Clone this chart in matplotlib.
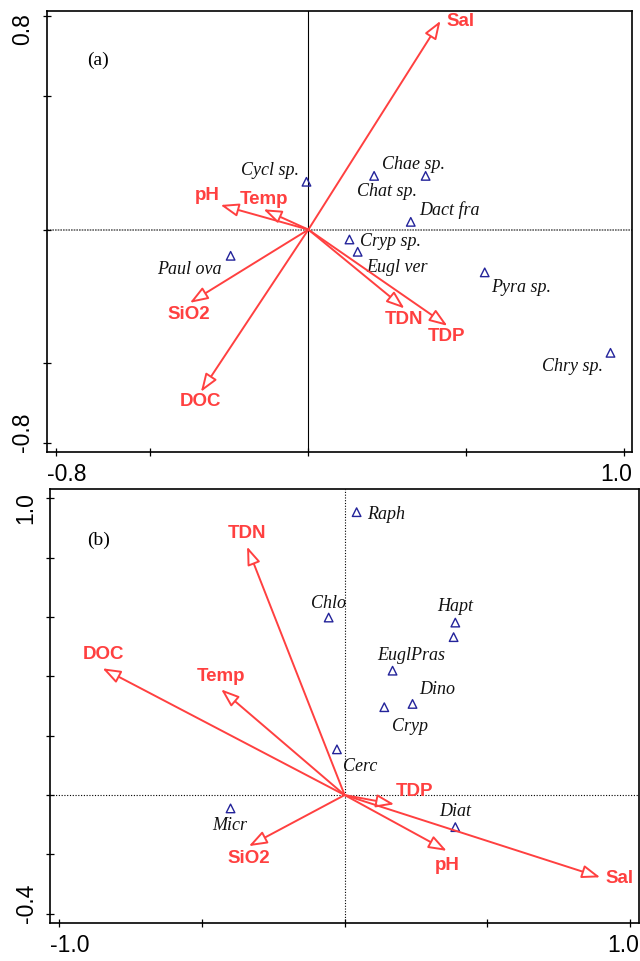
import matplotlib.pyplot as plt
import numpy as np

# ---- panel (a) data ----
env_a = ["Sal", "pH", "Temp", "SiO2", "DOC", "TDN", "TDP"]
env_a_x = [0.418, -0.278, -0.142, -0.375, -0.340, 0.304, 0.440]
env_a_y = [0.781, 0.092, 0.076, -0.274, -0.607, -0.295, -0.360]
env_a_lx = [0.480, -0.321, -0.140, -0.378, -0.340, 0.302, 0.438]
env_a_ly = [0.778, 0.129, 0.114, -0.316, -0.645, -0.335, -0.399]

sp_a = ["Cycl sp.", "Chat sp.", "Chae sp.", "Dact fra", "Cryp sp.",
        "Eugl ver", "Paul ova", "Pyra sp.", "Chry sp."]
sp_a_x = [-0.006, 0.208, 0.371, 0.324, 0.130, 0.156, -0.246, 0.558, 0.956]
sp_a_y = [0.179, 0.201, 0.201, 0.029, -0.037, -0.083, -0.098, -0.160, -0.461]
sp_a_lx = [-0.121, 0.250, 0.332, 0.446, 0.261, 0.279, -0.376, 0.673, 0.837]
sp_a_ly = [0.220, 0.144, 0.245, 0.073, -0.043, -0.143, -0.148, -0.215, -0.514]

# ---- panel (b) data ----
env_b = ["TDN", "DOC", "Temp", "TDP", "pH", "Sal", "SiO2"]
env_b_x = [-0.342, -0.849, -0.433, 0.174, 0.358, 0.896, -0.336]
env_b_y = [0.837, 0.427, 0.356, -0.031, -0.188, -0.277, -0.172]
env_b_lx = [-0.342, -0.847, -0.432, 0.246, 0.359, 0.965, -0.337]
env_b_ly = [0.882, 0.474, 0.399, 0.011, -0.236, -0.281, -0.213]

pts_b_x = [0.042, -0.056, 0.388, 0.382, 0.168, 0.238, 0.139, -0.027, 0.388, -0.400]
pts_b_y = [0.953, 0.598, 0.581, 0.532, 0.419, 0.307, 0.296, 0.154, -0.108, -0.045]
sp_b = ["Raph", "Chlo", "Hapt", "EuglPras", "Dino", "Cryp", "Cerc", "Diat", "Micr"]
sp_b_lx = [0.144, -0.055, 0.387, 0.232, 0.324, 0.229, 0.056, 0.388, -0.402]
sp_b_ly = [0.944, 0.646, 0.635, 0.469, 0.357, 0.230, 0.095, -0.056, -0.104]

xticks_a = [-0.8, -0.5, 0, 0.5, 1.0]
yticks_a = [-0.8, -0.5, 0, 0.5, 0.8]
xticks_b = [-1.0, -0.5, 0, 0.5, 1.0]
yticks_b = [-0.4, -0.2, 0, 0.2, 0.4, 0.6, 0.8, 1.0]
xlab_a = ["-0.8", "1.0"]
ylab_a = ["-0.8", "0.8"]
xlab_b = ["-1.0", "1.0"]
ylab_b = ["-0.4", "1.0"]

RED = "#ff4040"
BLUE = "#23239a"

fig = plt.figure(figsize=(6.4, 9.61), dpi=100)
ax_a = fig.add_axes([46.7 / 640, 1 - 451.7 / 961, 585.6 / 640, 441 / 961])
ax_b = fig.add_axes([50 / 640, 1 - 922.7 / 961, 589 / 640, 433.4 / 961])


def draw_panel(ax, ex, ey, names, lx, ly, px, py, spn, slx, sly):
    ax.scatter(px, py, marker="^", s=38, facecolors="none",
               edgecolors=BLUE, linewidths=1.0, zorder=3)
    for t, x, y in zip(spn, slx, sly):
        ax.text(x, y, t, ha="center", va="center", fontsize=13,
                family="Liberation Serif", style="italic", color="#111111")
    for x, y in zip(ex, ey):
        ax.annotate("", xy=(x, y), xytext=(0, 0),
                    arrowprops=dict(arrowstyle="-|>,head_length=0.55,head_width=0.2",
                                    fc="white", ec=RED, lw=1.4, mutation_scale=20,
                                    shrinkA=0, shrinkB=0), zorder=4)
    for t, x, y in zip(names, lx, ly):
        ax.text(x, y, t, ha="center", va="center", fontsize=13.5,
                family="Liberation Sans", weight="bold", color=RED)
    for s in ax.spines.values():
        s.set_linewidth(1.2)
    ax.tick_params(direction="inout", length=6, width=0.9,
                   labelbottom=False, labelleft=False)


def end_labels(ax, xl, yl):
    kw = dict(xycoords="axes fraction", textcoords="offset points",
              fontsize=16.5, family="Liberation Sans")
    ax.annotate(xl[0], xy=(0, 0), xytext=(0, -8), ha="left", va="top", **kw)
    ax.annotate(xl[1], xy=(1, 0), xytext=(0, -8), ha="right", va="top", **kw)
    ax.annotate(yl[0], xy=(0, 0), xytext=(-9, 0), ha="right", va="bottom",
                rotation=90, **kw)
    ax.annotate(yl[1], xy=(0, 1), xytext=(-9, -2), ha="right", va="top",
                rotation=90, **kw)


# panel (a)
ax_a.axvline(0, color="black", lw=0.8, zorder=1)
ax_a.axhline(0, color="#666666", lw=1.2, ls=(0, (1, 0.6)), zorder=1)
draw_panel(ax_a, env_a_x, env_a_y, env_a, env_a_lx, env_a_ly,
           sp_a_x, sp_a_y, sp_a, sp_a_lx, sp_a_ly)
ax_a.set_xlim(-0.828, 1.025)
ax_a.set_ylim(-0.831, 0.819)
ax_a.set_xticks(xticks_a)
ax_a.set_yticks(yticks_a)
end_labels(ax_a, xlab_a, ylab_a)
ax_a.text(0.088, 0.887, "(a)", transform=ax_a.transAxes, ha="center", va="center",
          fontsize=14, family="Liberation Serif")

# panel (b)
ax_b.axvline(0, color="black", lw=0.8, ls=(0, (1, 1.5)), zorder=1)
ax_b.axhline(0, color="black", lw=0.8, ls=(0, (1, 1.5)), zorder=1)
draw_panel(ax_b, env_b_x, env_b_y, env_b, env_b_lx, env_b_ly,
           pts_b_x, pts_b_y, sp_b, sp_b_lx, sp_b_ly)
ax_b.set_xlim(-1.033, 1.032)
ax_b.set_ylim(-0.430, 1.030)
ax_b.set_xticks(xticks_b)
ax_b.set_yticks(yticks_b)
end_labels(ax_b, xlab_b, ylab_b)
ax_b.text(0.083, 0.883, "(b)", transform=ax_b.transAxes, ha="center", va="center",
          fontsize=14, family="Liberation Serif")

fig.savefig("out.png", dpi=100)
plt.close(fig)
